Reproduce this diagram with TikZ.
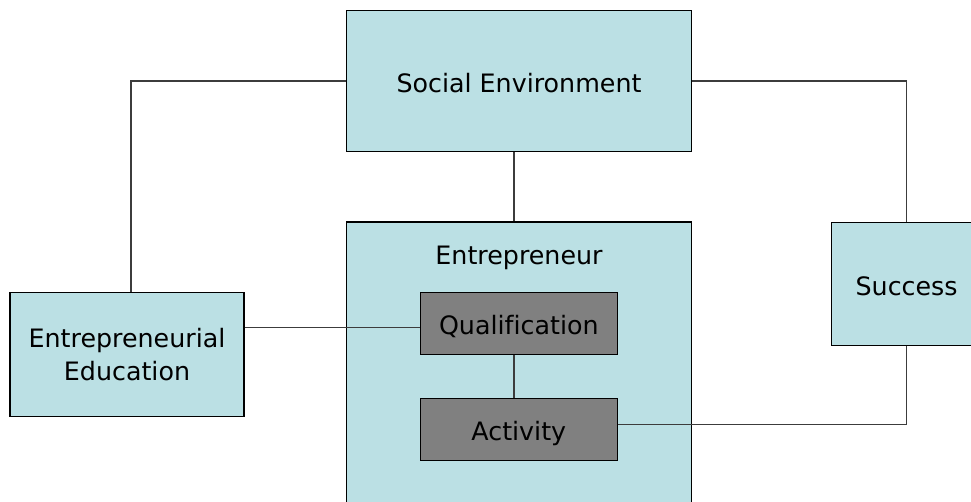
\documentclass[tikz,border=0pt]{standalone}
\usepackage{fontspec}
\setmainfont{DejaVu Sans}[Ligatures=NoCommon]
\usetikzlibrary{calc}
\definecolor{boxcyan}{RGB}{187,224,228}
\definecolor{boxgray}{RGB}{128,128,128}
\definecolor{linegray}{RGB}{60,60,60}
\tikzset{
  txt/.style={font=\fontsize{19}{24.5}\selectfont},
  oneline/.style={text height=18pt, text depth=1pt},
  cbox/.style={draw=black, fill=boxcyan, line width=0.8pt, inner sep=0pt, align=center, txt},
  gbox/.style={draw=black, fill=boxgray, line width=0.8pt, inner sep=0pt, align=center, txt, oneline},
  lbl/.style={inner sep=0pt, txt, oneline},
  conn/.style={draw=linegray, line width=0.8pt},
}
\begin{document}
\begin{tikzpicture}[x=0.75pt, y=-0.75pt]
\useasboundingbox (0,0) rectangle (971,501);
\clip (0,0) rectangle (971,501);
% boxes
\node[cbox, oneline, minimum width=0.75*345pt, minimum height=0.75*141pt] (se) at (519,81) {Social Environment};
\node[cbox, minimum width=0.75*345pt, minimum height=0.75*300pt] (ent) at (519,372) {};
\node[lbl] (entlbl) at (519,253.3) {Entrepreneur};
\node[cbox, minimum width=0.75*234pt, minimum height=0.75*123.5pt] (ee) at (127,354.3) {Entrepreneurial\\Education};
\node[gbox, minimum width=0.75*196.5pt, minimum height=0.75*62pt] (qual) at (518.8,323.3) {Qualification};
\node[gbox, minimum width=0.75*196.5pt, minimum height=0.75*61.7pt] (act) at (518.8,429.2) {Activity};
\node[cbox, oneline, minimum width=0.75*151pt, minimum height=0.75*123pt] (suc) at (906.6,283.8) {Success};
% connectors
\coordinate (c1) at ($(se.west)+(-215,0)$);
\draw[conn] (se.west) -- (c1) -- (c1 |- ee.north);
\draw[conn] (se.east) -| (suc.north);
\draw[conn] ($(se.south)+(-5,0)$) -- ($(ent.north)+(-5,0)$);
\coordinate (q1) at ($(qual.west)+(0,4.4)$);
\draw[conn] (ee.east |- q1) -- (q1);
\draw[conn] ($(qual.south)+(-4.8,0)$) -- ($(act.north)+(-4.8,0)$);
\coordinate (a1) at ($(act.east)+(0,-4.5)$);
\draw[conn] (a1) -| (suc.south);
\end{tikzpicture}
\end{document}
